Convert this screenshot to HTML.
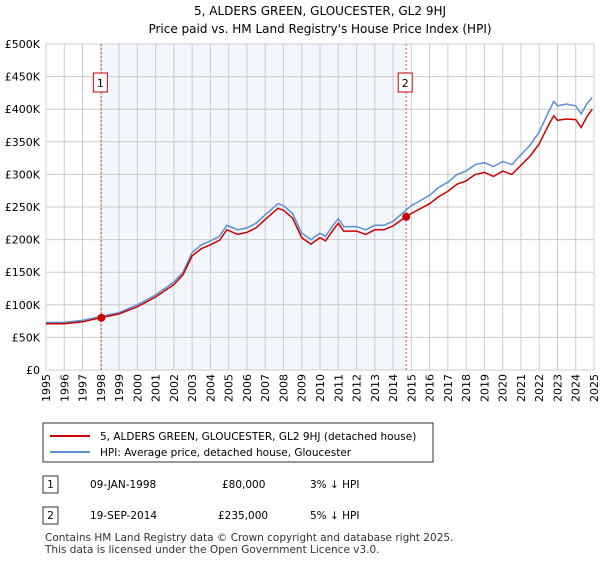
<!DOCTYPE html>
<html><head><meta charset="utf-8"><style>
body{margin:0;background:#fff;font-family:"Liberation Sans","DejaVu Sans",sans-serif;}
</style></head><body>
<svg width="600" height="560" xmlns="http://www.w3.org/2000/svg" font-family="DejaVu Sans, Liberation Sans, sans-serif">
<text x="320" y="15" text-anchor="middle" font-size="12">5, ALDERS GREEN, GLOUCESTER, GL2 9HJ</text>
<text x="320" y="33" text-anchor="middle" font-size="12">Price paid vs. HM Land Registry's House Price Index (HPI)</text>
<g id="plot"></g>
<rect x="43" y="423" width="390" height="39" fill="#fff" stroke="#000" stroke-width="0.8"/>
<line x1="50" y1="436" x2="90" y2="436" stroke="#cc0000" stroke-width="2"/>
<text x="100" y="440" font-size="10.5">5, ALDERS GREEN, GLOUCESTER, GL2 9HJ (detached house)</text>
<line x1="50" y1="452" x2="90" y2="452" stroke="#5b8fd4" stroke-width="2"/>
<text x="100" y="456" font-size="10.5">HPI: Average price, detached house, Gloucester</text>
<rect x="43" y="476" width="15" height="17" fill="#fff" stroke="#000" stroke-width="0.8"/>
<text x="50.5" y="488" text-anchor="middle" font-size="10.5">1</text>
<text x="90" y="488" font-size="10.5">09-JAN-1998</text>
<text x="222" y="488" font-size="10.5">£80,000</text>
<text x="310" y="488" font-size="10.5">3% ↓ HPI</text>
<rect x="43" y="507" width="15" height="17" fill="#fff" stroke="#000" stroke-width="0.8"/>
<text x="50.5" y="519" text-anchor="middle" font-size="10.5">2</text>
<text x="90" y="519" font-size="10.5">19-SEP-2014</text>
<text x="218" y="519" font-size="10.5">£235,000</text>
<text x="310" y="519" font-size="10.5">5% ↓ HPI</text>
<text x="45" y="541" font-size="10.5" fill="#333">Contains HM Land Registry data © Crown copyright and database right 2025.</text>
<text x="45" y="553" font-size="10.5" fill="#333">This data is licensed under the Open Government Licence v3.0.</text>
</svg>
<script>
const years=[1995,1996,1997,1998,1999,2000,2001,2002,2002.5,2003,2003.5,2004,2004.5,2004.9,2005.5,2006,2006.5,2007,2007.7,2008,2008.5,2009,2009.5,2010,2010.3,2010.8,2011,2011.3,2012,2012.5,2013,2013.5,2014,2014.7,2015,2016,2016.5,2017,2017.5,2018,2018.5,2019,2019.5,2020,2020.5,2021,2021.5,2022,2022.5,2022.8,2023,2023.5,2024,2024.3,2024.6,2024.9];
const hpiValues=[73,73,76,82,88,100,115,135,150,180,192,198,205,222,215,218,225,238,255,252,240,210,200,210,205,225,232,220,220,215,222,222,228,245,252,268,280,288,300,305,315,318,312,320,315,330,345,365,395,412,405,408,405,393,408,418];
const priceValues=[71,71,74,80,86,97,112,131,146,175,186,192,199,215,208,211,218,231,248,245,233,203,193,203,198,218,225,213,213,208,215,215,221,235,240,255,266,274,285,290,300,303,297,305,300,314,328,347,375,390,383,385,384,372,388,400];
const yTicks=[0,50,100,150,200,250,300,350,400,450,500];
const yTickLabels=["£0","£50K","£100K","£150K","£200K","£250K","£300K","£350K","£400K","£450K","£500K"];
const xTicks=[1995,1996,1997,1998,1999,2000,2001,2002,2003,2004,2005,2006,2007,2008,2009,2010,2011,2012,2013,2014,2015,2016,2017,2018,2019,2020,2021,2022,2023,2024,2025];
const saleYears=[1998.03,2014.72];
const salePrices=[80,235];
const saleLabels=["1","2"];
const NS="http://www.w3.org/2000/svg";
const X0=46,X1=594,Y0=370,Y1=44;
const xs=y=>X0+(y-1995)/30*(X1-X0);
const ys=v=>Y0-v/500*(Y0-Y1);
const g=document.getElementById('plot');
function mk(t,a){const e=document.createElementNS(NS,t);for(const k in a)e.setAttribute(k,a[k]);g.appendChild(e);return e;}
let e=mk('rect',{x:xs(saleYears[0]),y:Y1,width:xs(saleYears[1])-xs(saleYears[0]),height:Y0-Y1,fill:'#f3f6fd'});


yTicks.forEach((v,i)=>{
 let l=mk('line',{x1:X0,x2:X1,y1:ys(v),y2:ys(v),stroke:'#cccccc','stroke-width':1});
 
 
 let t=mk('text',{x:40,y:ys(v)+4,'text-anchor':'end','font-size':11});
 t.textContent=yTickLabels[i];
 
 
});
xTicks.forEach(y=>{
 let l=mk('line',{x1:xs(y),x2:xs(y),y1:Y1,y2:Y0,stroke:'#cccccc','stroke-width':1});
 
 
 let t=mk('text',{x:0,y:0,'text-anchor':'end','font-size':11,transform:`translate(${xs(y)+4},374) rotate(-90)`});
 t.textContent=y;
 
 
});
e=mk('rect',{x:X0,y:Y1,width:X1-X0,height:Y0-Y1,fill:'none',stroke:'#cccccc'});


saleYears.forEach((y,i)=>{
 let l=mk('line',{x1:xs(y),x2:xs(y),y1:Y1,y2:Y0,stroke:'#e05050','stroke-width':1,'stroke-dasharray':'2,2'});
 
 
 let r=mk('rect',{x:xs(y)-8,y:73,width:14,height:19,fill:'#fff',stroke:'#cc0000'});
 
 
 let t=mk('text',{x:xs(y)-1,y:87,'text-anchor':'middle','font-size':11});
 t.textContent=saleLabels[i];
 
 
});
const pts=a=>a.map((v,i)=>xs(years[i]).toFixed(1)+','+ys(v).toFixed(1)).join(' ');
e=mk('polyline',{points:pts(hpiValues),fill:'none',stroke:'#5b8fd4','stroke-width':1.5});


e=mk('polyline',{points:pts(priceValues),fill:'none',stroke:'#cc0000','stroke-width':1.5});


saleYears.forEach((y,i)=>{
 let c=mk('circle',{cx:xs(y),cy:ys(salePrices[i]),r:4,fill:'#cc0000'});
 
 
});
</script>
</body></html>
